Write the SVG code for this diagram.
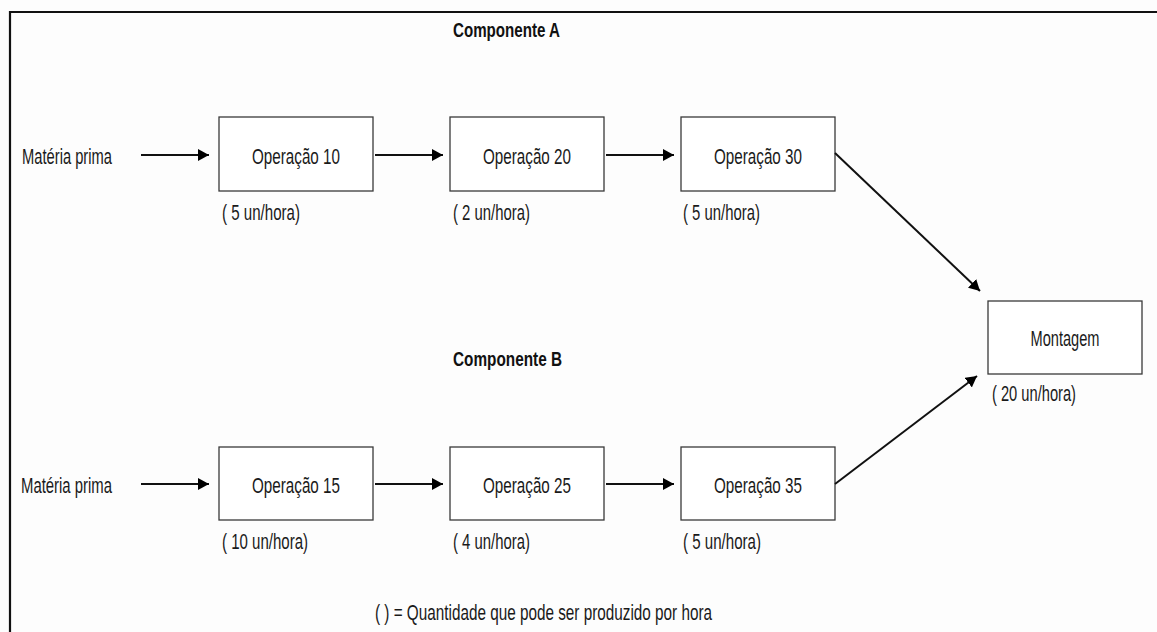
<svg xmlns="http://www.w3.org/2000/svg" width="1157" height="632" viewBox="0 0 1157 632">
  <style>
    .box { fill: #ffffff; stroke: #3a3a3a; stroke-width: 1.3; }
    .lbl { font-family: "Liberation Sans", Arial, sans-serif; font-size: 22px; fill: #1a1a1a; }
    .ttl { font-family: "Liberation Sans", Arial, sans-serif; font-size: 21px; font-weight: bold; fill: #111111; }
    .mid { text-anchor: middle; }
    .flow { stroke: #111111; stroke-width: 2; fill: none; marker-end: url(#arrow); }
    .frame { stroke: #111111; stroke-width: 2.2; fill: none; }
  </style>
  <defs>
    <marker id="arrow" markerUnits="userSpaceOnUse" markerWidth="12" markerHeight="12" refX="11" refY="6" orient="auto">
      <path d="M0,0 L11,6 L0,12 z" fill="#000000"/>
    </marker>
  </defs>

  <rect width="1157" height="632" fill="#fdfdfd"/>

  <!-- page frame: top and left edges -->
  <path class="frame" d="M10,632 L10,12 L1157,12"/>

  <!-- headings and legend -->
  <text class="ttl" x="453" y="37" textLength="107" lengthAdjust="spacingAndGlyphs">Componente A</text>
  <text class="ttl" x="453" y="366" textLength="109" lengthAdjust="spacingAndGlyphs">Componente B</text>
  <text class="lbl" x="375" y="620" textLength="337" lengthAdjust="spacingAndGlyphs">( ) = Quantidade que pode ser produzido por hora</text>

  <!-- raw material inputs -->
  <g id="input-a">
    <text class="lbl" x="22" y="164" textLength="90" lengthAdjust="spacingAndGlyphs">Matéria prima</text>
  </g>
  <g id="input-b">
    <text class="lbl" x="21" y="493" textLength="91" lengthAdjust="spacingAndGlyphs">Matéria prima</text>
  </g>

  <!-- component A line -->
  <g id="op10">
    <rect class="box" x="219" y="117" width="154" height="74"/>
    <text class="lbl mid" x="296" y="164" textLength="88" lengthAdjust="spacingAndGlyphs">Operação 10</text>
    <text class="lbl" x="222" y="220" textLength="78" lengthAdjust="spacingAndGlyphs">( 5 un/hora)</text>
  </g>
  <g id="op20">
    <rect class="box" x="450" y="117" width="154" height="74"/>
    <text class="lbl mid" x="527" y="164" textLength="88" lengthAdjust="spacingAndGlyphs">Operação 20</text>
    <text class="lbl" x="453" y="220" textLength="77" lengthAdjust="spacingAndGlyphs">( 2 un/hora)</text>
  </g>
  <g id="op30">
    <rect class="box" x="681" y="117" width="154" height="74"/>
    <text class="lbl mid" x="758" y="164" textLength="88" lengthAdjust="spacingAndGlyphs">Operação 30</text>
    <text class="lbl" x="683" y="220" textLength="77" lengthAdjust="spacingAndGlyphs">( 5 un/hora)</text>
  </g>

  <!-- component B line -->
  <g id="op15">
    <rect class="box" x="219" y="447" width="154" height="73"/>
    <text class="lbl mid" x="296" y="493" textLength="88" lengthAdjust="spacingAndGlyphs">Operação 15</text>
    <text class="lbl" x="222" y="549" textLength="86" lengthAdjust="spacingAndGlyphs">( 10 un/hora)</text>
  </g>
  <g id="op25">
    <rect class="box" x="450" y="447" width="154" height="73"/>
    <text class="lbl mid" x="527" y="493" textLength="88" lengthAdjust="spacingAndGlyphs">Operação 25</text>
    <text class="lbl" x="453" y="549" textLength="77" lengthAdjust="spacingAndGlyphs">( 4 un/hora)</text>
  </g>
  <g id="op35">
    <rect class="box" x="681" y="447" width="154" height="73"/>
    <text class="lbl mid" x="758" y="493" textLength="88" lengthAdjust="spacingAndGlyphs">Operação 35</text>
    <text class="lbl" x="683" y="549" textLength="78" lengthAdjust="spacingAndGlyphs">( 5 un/hora)</text>
  </g>

  <!-- final assembly -->
  <g id="montagem">
    <rect class="box" x="988" y="301" width="154" height="73"/>
    <text class="lbl mid" x="1065" y="346" textLength="69" lengthAdjust="spacingAndGlyphs">Montagem</text>
    <text class="lbl" x="992" y="401" textLength="84" lengthAdjust="spacingAndGlyphs">( 20 un/hora)</text>
  </g>

  <!-- material flow -->
  <g id="connectors">
    <line class="flow" x1="141" y1="155" x2="209" y2="155"/>
    <line class="flow" x1="375" y1="155" x2="443" y2="155"/>
    <line class="flow" x1="606" y1="155" x2="674" y2="155"/>
    <line class="flow" x1="141" y1="484" x2="209" y2="484"/>
    <line class="flow" x1="375" y1="484" x2="443" y2="484"/>
    <line class="flow" x1="606" y1="484" x2="674" y2="484"/>
    <line class="flow" x1="835" y1="153" x2="980" y2="291"/>
    <line class="flow" x1="835" y1="484" x2="977" y2="376"/>
  </g>
</svg>
